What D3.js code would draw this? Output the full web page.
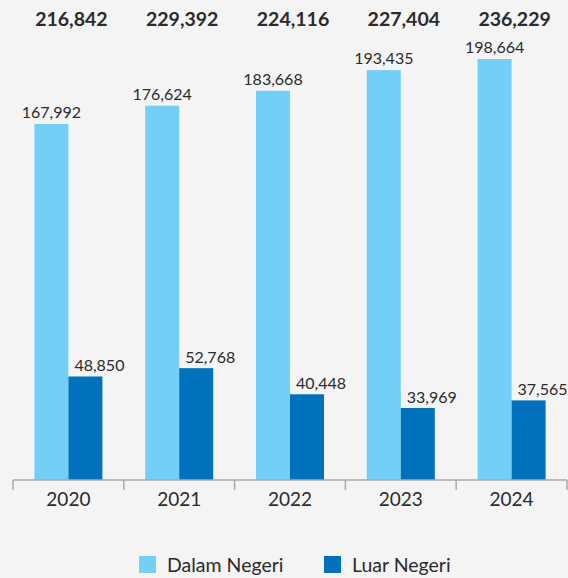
<!DOCTYPE html>
<html><head><meta charset="utf-8">
<script src="https://cdn.jsdelivr.net/npm/d3@7"></script>
<style>
html,body{margin:0;padding:0;background:#f4f4f4;}
svg{display:block;font-family:Lato,"Noto Sans",sans-serif;}
</style></head>
<body><svg id="c" width="568" height="578"></svg>
<script>
const years = ["2020","2021","2022","2023","2024"];
const dalamNegeri = [167992,176624,183668,193435,198664];
const luarNegeri = [48850,52768,40448,33969,37565];
const totals = [216842,229392,224116,227404,236229];
const seriesNames = ["Dalam Negeri","Luar Negeri"];
const colors = ["#73cff5","#0071ba"];

const svg = d3.select("#c");
svg.append("rect").attr("width",568).attr("height",578).attr("fill","#f4f4f4");
const baseY = 480;
const x = d3.scaleBand().domain(years).range([13,567]).paddingInner(0).paddingOuter(0);
const y = d3.scaleLinear().domain([0,226500]).range([baseY,0]);
const fmt = d3.format(",");
const barW = 34;

const g = svg.append("g");
years.forEach((yr,i)=>{
  const cx = x(yr)+x.bandwidth()/2;
  g.append("rect").attr("x",cx-barW).attr("y",y(dalamNegeri[i])).attr("width",barW)
    .attr("height",baseY-y(dalamNegeri[i])).attr("fill",colors[0]);
  g.append("rect").attr("x",cx).attr("y",y(luarNegeri[i])).attr("width",barW)
    .attr("height",baseY-y(luarNegeri[i])).attr("fill",colors[1]);
  g.append("text").attr("x",cx-barW/2).attr("y",y(dalamNegeri[i])-6).attr("text-anchor","middle")
    .attr("font-size",16).attr("fill","#2b2b2b").text(fmt(dalamNegeri[i]));
  g.append("text").attr("x",cx+barW/2+14).attr("y",y(luarNegeri[i])-5).attr("text-anchor","middle")
    .attr("font-size",16).attr("fill","#2b2b2b").text(fmt(luarNegeri[i]));
  g.append("text").attr("x",cx+3).attr("y",26).attr("text-anchor","middle")
    .attr("font-size",19.5).attr("font-weight","bold").attr("fill","#2b2b2b").text(fmt(totals[i]));
});

// axis
const ax = svg.append("g").attr("transform",`translate(0,${baseY})`)
  .call(d3.axisBottom(x).tickSize(0).tickPadding(13));
ax.select(".domain").attr("stroke","#aaaaaa").attr("stroke-width",1.5).attr("d","M13,0H567");
ax.selectAll(".tick text").attr("font-size",19).attr("fill","#2b2b2b").attr("font-family","Lato,'Noto Sans',sans-serif");
const bounds = years.map(yr=>x(yr)).concat([x(years[years.length-1])+x.bandwidth()]);
ax.selectAll(".sep").data(bounds).enter().append("line").attr("class","sep")
  .attr("x1",d=>d).attr("x2",d=>d).attr("y1",0).attr("y2",10)
  .attr("stroke","#aaaaaa").attr("stroke-width",1.5);

// legend
const legX = [139,324];
seriesNames.forEach((n,i)=>{
  svg.append("rect").attr("x",legX[i]).attr("y",556).attr("width",17).attr("height",17).attr("fill",colors[i]);
  svg.append("text").attr("x",legX[i]+28).attr("y",572).attr("font-size",19.5).attr("fill","#2b2b2b").text(n);
});
</script></body></html>
